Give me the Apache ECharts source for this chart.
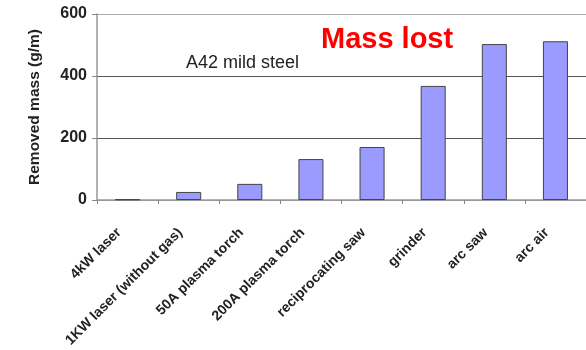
<!DOCTYPE html>
<html>
<head>
<meta charset="utf-8">
<script src="https://cdn.jsdelivr.net/npm/echarts@6/dist/echarts.min.js"></script>
<style>
html, body { margin: 0; padding: 0; background: #fff; }
#chart { width: 586px; height: 350px; }
</style>
</head>
<body>
<div id="chart"></div>
<script>
// data
var categories = ["4kW laser", "1KW laser (without gas)", "50A plasma torch", "200A plasma torch",
    "reciprocating saw", "grinder", "arc saw", "arc air"];
var removedMass = [2, 26, 52, 132, 171, 368, 503, 512];
var yTicks = [0, 200, 400, 600];

var myChart = echarts.init(document.getElementById("chart"));
var option = {
    backgroundColor: "#fff",
    animation: false,
    title: {
        text: "Mass lost",
        left: 316,
        top: 20,
        textStyle: {
            color: "#ff0000",
            fontFamily: "Liberation Sans",
            fontWeight: "bold",
            fontSize: 29
        }
    },
    graphic: [{
        type: "text",
        left: 186,
        top: 54,
        style: {
            text: "A42 mild steel",
            fill: "#222",
            font: "18px 'Liberation Sans'"
        }
    }],
    grid: {
        left: 97,
        right: 0,
        top: 14,
        bottom: 150,
        outerBoundsMode: "none"
    },
    xAxis: {
        type: "category",
        data: categories,
        axisLine: { lineStyle: { color: "#999", width: 1.5 } },
        axisTick: { show: true, length: 4, lineStyle: { color: "#888" } },
        axisLabel: {
            rotate: 45,
            interval: 0,
            margin: 22,
            padding: [0, 12, 0, 0],
            color: "#222",
            fontFamily: "Liberation Sans",
            fontWeight: "bold",
            fontSize: 14
        }
    },
    yAxis: {
        type: "value",
        min: yTicks[0],
        max: yTicks[yTicks.length - 1],
        interval: 200,
        name: "Removed mass (g/m)",
        nameLocation: "middle",
        nameGap: 54,
        nameTextStyle: {
            color: "#222",
            fontFamily: "Liberation Sans",
            fontWeight: "bold",
            fontSize: 15.5
        },
        axisLine: { show: true, lineStyle: { color: "#999", width: 1.5 } },
        axisTick: { show: true, length: 5, lineStyle: { color: "#888" } },
        axisLabel: {
            margin: 10,
            color: "#222",
            fontFamily: "Liberation Sans",
            fontWeight: "bold",
            fontSize: 16
        },
        splitLine: { lineStyle: { color: ["#999", "#555", "#555", "#aaa"], width: 1.2 } }
    },
    series: [{
        type: "bar",
        data: removedMass,
        barWidth: "41%",
        itemStyle: {
            color: "#9b9bff",
            borderColor: "#444",
            borderWidth: 1
        }
    }]
};
myChart.setOption(option);
</script>
</body>
</html>
